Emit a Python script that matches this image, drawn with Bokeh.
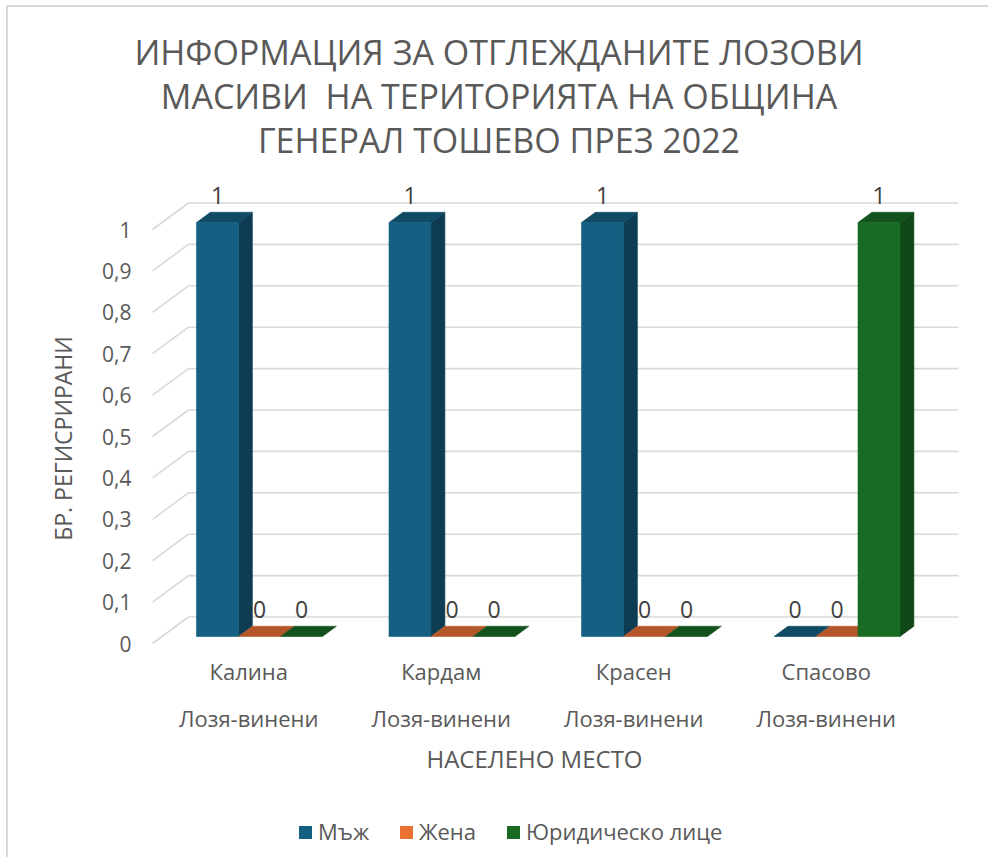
from bokeh.plotting import figure
from bokeh.layouts import column
from bokeh.models import (Range1d, LinearAxis, FixedTicker, CustomJSTickFormatter, Div)
from bokeh.embed import file_html
from bokeh.resources import INLINE
from bokeh.core.properties import value

# ---------------- data ----------------
title_lines = ["ИНФОРМАЦИЯ ЗА ОТГЛЕЖДАНИТЕ ЛОЗОВИ",
               "МАСИВИ  НА ТЕРИТОРИЯТА НА ОБЩИНА",
               "ГЕНЕРАЛ ТОШЕВО ПРЕЗ 2022"]
places = ["Калина", "Кардам", "Красен", "Спасово"]
crops = ["Лозя-винени", "Лозя-винени", "Лозя-винени", "Лозя-винени"]
series_names = ["Мъж", "Жена", "Юридическо лице"]
mazh = [1, 1, 1, 0]
zhena = [0, 0, 0, 0]
yurid = [0, 0, 0, 1]
y_ticks = [0, 0.1, 0.2, 0.3, 0.4, 0.5, 0.6, 0.7, 0.8, 0.9, 1]
x_title = "НАСЕЛЕНО МЕСТО"
y_title = "БР. РЕГИСРИРАНИ"

# ---------------- styling ----------------
FONT = "Open Sans"
TXT = "#595959"
fronts = ["#156082", "#e97132", "#196b24"]
sides = ["#0e3d53", "#9c4b21", "#104718"]
tops = ["#104a64", "#b3572a", "#13521c"]

PX_CAT = 192.5
PX_VAL = 414.0
DX = 36 / PX_CAT          # depth offset (x) in category units
DY = 26.5 / PX_VAL        # depth offset (y) in value units
ZF, ZB = 0.264, 0.65      # bar depth position
BAR_W = 42 / PX_CAT
GROUP_LEFT = -61.75 / PX_CAT
LABEL_OFF = 0.082
W = 982

# ---- title ----
title_html = ('<div style="width:%dpx;font-family:\'Open Sans\';font-size:34px;line-height:44px;'
              'color:#595959;text-align:center;white-space:pre;padding-top:23px;">' % W
              + "\n".join(title_lines) + '</div>')
title_div = Div(text=title_html, width=W, height=163, margin=0)

# ---- main figure ----
p = figure(width=W, height=640,
           x_range=Range1d(-0.5 - 2 / PX_CAT, -0.5 + (960 - 152) / PX_CAT),
           y_range=Range1d(-2 / PX_VAL, (643 - 180) / PX_VAL),
           output_backend="svg", toolbar_location=None,
           x_axis_location=None, y_axis_location=None,
           min_border_left=142, min_border_right=30,
           min_border_top=10, min_border_bottom=165,
           outline_line_color=None, background_fill_color="white",
           border_fill_color="white", margin=0)
p.xgrid.visible = False
p.ygrid.visible = False

# gridlines (back wall + left wall)
x0 = -0.5
x1 = len(places) - 0.5
gxs = [[x0, x0 + DX, x1 + DX] for t in y_ticks]
gys = [[t, t + DY, t + DY] for t in y_ticks]
p.multi_line(gxs, gys, line_color="#d9d9d9", line_width=1.6)

# 3D bars
values = [mazh, zhena, yurid]
pxs, pys, pcol = [], [], []
lab_x, lab_y, lab_t = [], [], []
fx, fy = ZF * DX, ZF * DY
bx, by = ZB * DX, ZB * DY
for i in range(len(places)):
    for s in range(len(values)):
        v = values[s][i]
        xl = i + GROUP_LEFT + s * BAR_W
        xr = xl + BAR_W
        if v > 0:
            pxs.append([xr + fx, xr + bx, xr + bx, xr + fx])
            pys.append([fy, by, v + by, v + fy])
            pcol.append(sides[s])
        pxs.append([xl + fx, xr + fx, xr + bx, xl + bx])
        pys.append([v + fy, v + fy, v + by, v + by])
        pcol.append(tops[s])
        if v > 0:
            pxs.append([xl + fx, xr + fx, xr + fx, xl + fx])
            pys.append([fy, fy, v + fy, v + fy])
            pcol.append(fronts[s])
        lab_x.append(xl + BAR_W / 2 + fx)
        lab_y.append(v + LABEL_OFF)
        lab_t.append(str(v))
p.patches(pxs, pys, fill_color=pcol, line_color=pcol, line_width=0.6)
p.text(lab_x, lab_y, text=lab_t, text_align="center", text_baseline="middle",
       text_font=value(FONT), text_font_size="23px", text_color="#404040")

# y axis
yax = LinearAxis(ticker=FixedTicker(ticks=y_ticks),
                 formatter=CustomJSTickFormatter(
                     code="return (Math.round(tick*10)/10).toString().replace('.', ',')"),
                 axis_line_color=None, major_tick_line_color=None,
                 minor_tick_line_color=None, major_label_standoff=13,
                 major_label_text_font=FONT, major_label_text_font_size="21px",
                 major_label_text_color=TXT)
p.add_layout(yax, "left")
ylab = LinearAxis(ticker=FixedTicker(ticks=[0.495]),
                  formatter=CustomJSTickFormatter(args=dict(t=y_title), code="return t"),
                  axis_line_color=None, major_tick_line_color=None,
                  minor_tick_line_color=None, major_label_standoff=14,
                  major_label_orientation="vertical",
                  major_label_text_font=FONT, major_label_text_font_size="23px",
                  major_label_text_color=TXT)
p.add_layout(ylab, "left")

# x axes
cat_ticks = list(range(len(places)))
def xaxis(labels, standoff, size="22px"):
    return LinearAxis(ticker=FixedTicker(ticks=cat_ticks),
                      formatter=CustomJSTickFormatter(args=dict(l=labels),
                                                      code="return l[Math.round(tick)]"),
                      axis_line_color=None, major_tick_line_color=None,
                      minor_tick_line_color=None, major_label_standoff=standoff,
                      major_label_text_font=FONT, major_label_text_font_size=size,
                      major_label_text_color=TXT)
p.add_layout(xaxis(places, 4), "below")
p.add_layout(xaxis(crops, 8), "below")
xt = LinearAxis(ticker=FixedTicker(ticks=[(534 - 152) / PX_CAT - 0.5]),
                formatter=CustomJSTickFormatter(args=dict(t=x_title), code="return t"),
                axis_line_color=None, major_tick_line_color=None,
                minor_tick_line_color=None, major_label_standoff=0,
                major_label_text_font=FONT, major_label_text_font_size="24px",
                major_label_text_color=TXT)
p.add_layout(xt, "below")

# ---- legend ----
leg_left = [291, 392, 499]
items = ""
for name, c, lx in zip(series_names, fronts, leg_left):
    items += ('<span style="position:absolute;left:%dpx;top:0;display:flex;align-items:center;'
              'height:30px;white-space:nowrap;">'
              '<span style="display:inline-block;width:13px;height:13px;background:%s;'
              'margin-right:6px;"></span>%s</span>' % (lx, c, name))
legend_html = ('<div style="position:relative;width:%dpx;height:30px;margin-top:7px;'
               'font-family:\'Open Sans\';font-size:22px;color:#595959;">' % W
               + items + '</div>')
legend_div = Div(text=legend_html, width=W, height=49, margin=0)

col = column(title_div, p, legend_div, spacing=0)
col.styles = {"position": "relative", "left": "8px", "top": "7px",
              "box-shadow": "-2px -2px 0 0 #d9d9d9"}

open("out.html", "w").write(file_html(col, INLINE))
